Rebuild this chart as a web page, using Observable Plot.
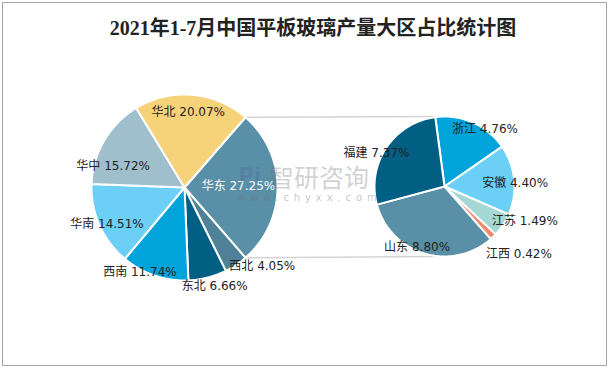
<!DOCTYPE html>
<html>
<head>
<meta charset="utf-8">
<script src="https://cdn.jsdelivr.net/npm/d3@7"></script>
<script src="https://cdn.jsdelivr.net/npm/@observablehq/plot@0.6"></script>
<style>
  html, body { margin: 0; padding: 0; background: #fff; }
  #wrap { position: relative; width: 612px; height: 370px; overflow: hidden; background: #fff; }
  #frame { position: absolute; left: 2px; top: 2px; width: 603px; height: 362px; border: 1.5px solid #A6A6A6; pointer-events: none; }
  #title { position: absolute; left: 0; top: 16px; width: 626px; text-align: center;
    font-family: "Liberation Serif", "Noto Sans CJK SC", serif; font-size: 20px; font-weight: bold; color: #222; line-height: 24px; }
  #chart { position: absolute; left: 0; top: 0; }
  .wm { position: absolute; pointer-events: none; white-space: nowrap; }
</style>
</head>
<body>
<div id="wrap">
  <div id="chart"></div>
  <div id="title">2021年1-7月中国平板玻璃产量大区占比统计图</div>
  <div class="wm" style="left:238px;top:165px;font-family:'DejaVu Sans',sans-serif;font-weight:bold;font-size:22px;line-height:22px;color:rgba(60,90,140,0.22);">Pi</div>
  <div class="wm" style="left:269px;top:164px;font-family:'Noto Sans CJK SC',sans-serif;font-size:25px;line-height:25px;color:rgba(110,110,110,0.33);">智研咨询</div>
  <div class="wm" style="left:237px;top:192px;font-family:'DejaVu Sans',sans-serif;font-size:10px;line-height:11px;letter-spacing:4.9px;color:rgba(110,110,110,0.4);">www.chyxx.com</div>
  <div id="frame"></div>
</div>
<script>
// ---- data ----
const mainNames = ["华东", "西北", "东北", "西南", "华南", "华中", "华北"];
const mainValues = [27.25, 4.05, 6.66, 11.74, 14.51, 15.72, 20.07];
const subNames = ["浙江", "安徽", "江苏", "江西", "山东", "福建"];
const subValues = [4.76, 4.40, 1.49, 0.42, 8.80, 7.37];

// ---- styles ----
const mainColors = ["#5A8FA8", "#4F8299", "#005F82", "#00A3DA", "#6CCFF6", "#A0BFCC", "#F6D27A"];
const subColors = ["#00A3DA", "#6CCFF6", "#A5D8D4", "#EE8A6E", "#5A8FA8", "#005F82"];
const mainLabelColors = ["#ffffff", "#222", "#222", "#222", "#222", "#222", "#222"];
const subLabelColors = ["#222", "#222", "#222", "#222", "#222", "#222"];

// ---- layout ----
const mainPie = {cx: 184, cy: 187, r: 93};
const subPie = {cx: 444, cy: 186, r: 70, start: -7.6};
const mainLabelK = [0.58, 1.19, 1.11, 1.03, 0.92, 0.80, 0.81];
const mainLabelShift = [-1, -11, -2.6, 9, -1, -14, -2];
const subLabelK = [1.0, 1.01, 1.25, 1.44, 0.95, 1.08];
const subLabelShift = [11.5, 3.3, -10, -3.5, 7.5, -7.8];

const rad = d => d * Math.PI / 180;
const pt = (p, a, r) => [p.cx + r * Math.sin(rad(a)), p.cy - r * Math.cos(rad(a))];

function slices(names, values, colors, pie, start, prefix) {
  const total = d3.sum(values);
  let a = start;
  return names.map((n, i) => {
    const span = values[i] / total * 360;
    const s = {key: prefix + n, name: n, value: values[i], color: colors[i], a0: a, a1: a + span, mid: a + span / 2, pie};
    a += span;
    return s;
  });
}

const mainTotal = d3.sum(mainValues);
const mainStart = 90 - mainValues[0] / mainTotal * 180;
const mainSlices = slices(mainNames, mainValues, mainColors, mainPie, mainStart, "m");
const subSlices = slices(subNames, subValues, subColors, subPie, subPie.start, "s");

function wedgeRows(sl) {
  const rows = [];
  for (const s of sl) {
    rows.push({key: s.key, color: s.color, x: s.pie.cx, y: s.pie.cy});
    const n = Math.max(2, Math.ceil((s.a1 - s.a0) / 1));
    for (let k = 0; k <= n; k++) {
      const a = s.a0 + (s.a1 - s.a0) * k / n;
      const [x, y] = pt(s.pie, a, s.pie.r);
      rows.push({key: s.key, color: s.color, x, y});
    }
  }
  return rows;
}
const wedges = wedgeRows(mainSlices).concat(wedgeRows(subSlices));

const labels = [];
mainSlices.forEach((s, i) => {
  const [x, y] = pt(mainPie, s.mid + mainLabelShift[i], mainPie.r * mainLabelK[i]);
  labels.push({x, y, text: `${s.name} ${s.value.toFixed(2)}%`, color: mainLabelColors[i]});
});
subSlices.forEach((s, i) => {
  const [x, y] = pt(subPie, s.mid + subLabelShift[i], subPie.r * subLabelK[i]);
  labels.push({x, y, text: `${s.name} ${s.value.toFixed(2)}%`, color: subLabelColors[i]});
});

const other = mainSlices[0];
const p1 = pt(mainPie, other.a0, mainPie.r);
const p2 = pt(mainPie, other.a1, mainPie.r);
const connectors = [
  {x1: p1[0], y1: p1[1], x2: subPie.cx - 4, y2: subPie.cy - subPie.r},
  {x1: p2[0], y1: p2[1], x2: subPie.cx - 4, y2: subPie.cy + subPie.r}
];

const chart = Plot.plot({
  width: 612,
  height: 370,
  margin: 0,
  style: {background: "transparent", overflow: "visible"},
  x: {domain: [0, 612], range: [0, 612], axis: null},
  y: {domain: [0, 370], range: [0, 370], axis: null},
  color: {type: "identity"},
  marks: [
    Plot.link(connectors, {x1: "x1", y1: "y1", x2: "x2", y2: "y2", stroke: "#D3D3D3", strokeWidth: 1.5}),
    Plot.line(wedges, {x: "x", y: "y", z: "key", fill: "color", stroke: "#ffffff", strokeWidth: 2, strokeLinejoin: "round", curve: "linear-closed"}),
    Plot.text(labels, {x: "x", y: "y", text: "text", fill: "color", fontSize: 12, fontFamily: "'DejaVu Sans', 'Noto Sans CJK SC', sans-serif"})
  ]
});
document.getElementById("chart").appendChild(chart);
</script>
</body>
</html>
